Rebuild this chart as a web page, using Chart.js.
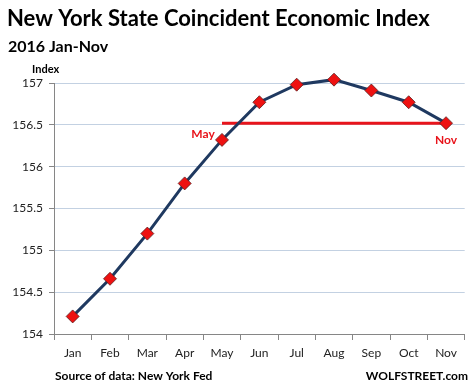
<!DOCTYPE html>
<html><head><meta charset="utf-8">
<script src="https://cdn.jsdelivr.net/npm/chart.js@4/dist/chart.umd.min.js"></script>
<style>html,body{margin:0;padding:0;background:#fff}#wrap{width:472px;height:392px;position:relative}</style>
</head><body><div id="wrap"><canvas id="c" width="472" height="392"></canvas></div>
<script>
const months = ["Jan","Feb","Mar","Apr","May","Jun","Jul","Aug","Sep","Oct","Nov"];
const indexValues = [154.21,154.66,155.20,155.80,156.32,156.77,156.98,157.04,156.91,156.77,156.52];
const yTicks = [154,154.5,155,155.5,156,156.5,157];
const refStart = 4, refEnd = 10; // May -> Nov reference line
const refLine = months.map((m,i)=> (i>=refStart && i<=refEnd) ? indexValues[refEnd] : null);

const FONT = "Lato, 'Open Sans', sans-serif";

const textPlugin = {
  id:'texts',
  afterDraw(chart){
    const ctx = chart.ctx;
    ctx.save();
    ctx.fillStyle = '#000';
    ctx.textBaseline = 'alphabetic';
    ctx.textAlign = 'left';
    ctx.font = "bold 22px " + FONT;
    ctx.fillText("New York State Coincident Economic Index", 7, 26);
    ctx.font = "bold 16px " + FONT;
    ctx.fillText("2016 Jan-Nov", 8, 52);
    ctx.font = "bold 11px " + FONT;
    ctx.fillText("Index", 32, 73);
    ctx.font = "bold 12px " + FONT;
    ctx.fillText("Source of data: New York Fed", 55, 380);
    ctx.textAlign = 'right';
    ctx.fillText("WOLFSTREET.com", 468, 380);
    // annotations
    const xs = chart.scales.x, ys = chart.scales.y;
    ctx.fillStyle = '#e8141b';
    ctx.textAlign = 'center';
    ctx.font = "bold 12px " + FONT;
    ctx.fillText(months[refStart], xs.getPixelForValue(refStart) - 19, ys.getPixelForValue(indexValues[refEnd]) + 15);
    ctx.fillText(months[refEnd], xs.getPixelForValue(refEnd), ys.getPixelForValue(indexValues[refEnd]) + 21);
    ctx.restore();
  }
};

new Chart(document.getElementById('c'), {
  type:'line',
  data:{
    labels: months,
    datasets:[
      {data: indexValues, borderColor:'#1f3960', borderWidth:3, pointStyle:'rectRot', pointRadius:6.5, pointBackgroundColor:'#ee1111', pointBorderColor:'#5a2020', pointBorderWidth:0.8, tension:0, order:1, clip:false},
      {data: refLine, borderColor:'#e8141b', borderWidth:3, pointRadius:0, spanGaps:false, tension:0, order:2, clip:false}
    ]
  },
  options:{
    responsive:false, animation:false,
    layout:{padding:{top:83,left:0,right:4,bottom:0}},
    plugins:{legend:{display:false}, tooltip:{enabled:false}},
    scales:{
      x:{
        offset:true,
        grid:{offset:true, drawOnChartArea:false, drawTicks:true, tickLength:6, color:'#868686'},
        border:{color:'#868686', width:1},
        ticks:{color:'#222', font:{family:FONT, size:12}, padding:6, maxRotation:0},
        afterFit(s){ s.height = 58; }
      },
      y:{
        min:154, max:157,
        afterBuildTicks(s){ s.ticks = yTicks.map(v=>({value:v})); },
        grid:{color:'#c3d1e2', lineWidth:1, tickLength:5, tickColor:'#868686'},
        border:{color:'#868686', width:1},
        ticks:{color:'#222', font:{family:FONT, size:12}, padding:6, callback:(v)=>String(v)},
        afterFit(s){ s.width = 54; }
      }
    }
  },
  plugins:[textPlugin]
});
</script></body></html>
